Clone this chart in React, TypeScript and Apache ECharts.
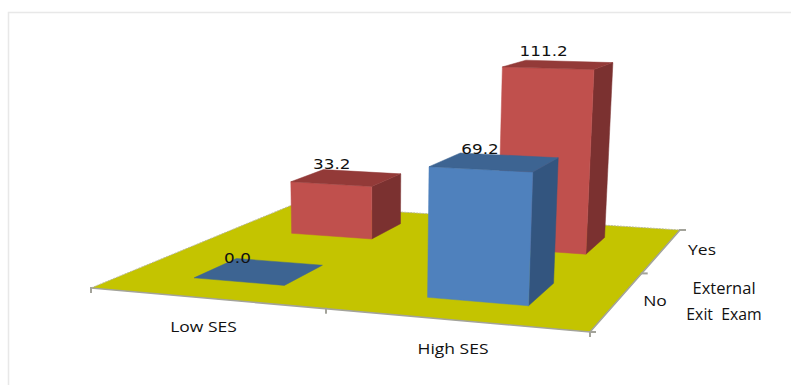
import React, { useEffect, useRef } from "react";
import * as echarts from "echarts";

const sesLevels = ["Low SES", "High SES"];
const examLevels = ["No", "Yes"];
const noExamValues = [0.0, 69.2];
const yesExamValues = [33.2, 111.2];

const W = 791;
const H = 385;

// Corners of the floor on screen: front-left, front-right, back-right, back-left.
const FLOOR = [[91, 288], [590, 332], [680, 230], [292, 205]];
const BAR_SPAN = 0.4; // share of a category band taken by a bar
const LEAN_X = 372;
const LEAN_DIST = 4900;

const COLORS = {
  floor: "#c4c400",
  edge: "#a3a39a",
  blue: { front: "#4f81bd", side: "#33557f", top: "#3d6492" },
  red: { front: "#c0504d", side: "#7b3130", top: "#933a38" },
};

// Unit square to floor quadrilateral (projective map).
function makeFloorMap(q: number[][]) {
  const [[x0, y0], [x1, y1], [x2, y2], [x3, y3]] = q;
  const dx1 = x1 - x2, dx2 = x3 - x2, sx = x0 - x1 + x2 - x3;
  const dy1 = y1 - y2, dy2 = y3 - y2, sy = y0 - y1 + y2 - y3;
  const den = dx1 * dy2 - dx2 * dy1;
  const g = (sx * dy2 - dx2 * sy) / den;
  const h = (dx1 * sy - sx * dy1) / den;
  const a = x1 - x0 + g * x1, b = x3 - x0 + h * x3;
  const d = y1 - y0 + g * y1, e = y3 - y0 + h * y3;
  return (u: number, v: number) => {
    const w = g * u + h * v + 1;
    return { x: (a * u + b * v + x0) / w, y: (d * u + e * v + y0) / w, w };
  };
}
const floorAt = makeFloorMap(FLOOR);

// A point above the floor; verticals converge slightly towards a low vanishing point.
function lift(u: number, v: number, heightPx: number): number[] {
  const p = floorAt(u, v);
  const h = heightPx / p.w;
  return [p.x + (h * (p.x - LEAN_X)) / LEAN_DIST, p.y - h];
}

function poly(points: number[][], fill: string) {
  return {
    type: "polygon",
    shape: { points },
    style: { fill, stroke: fill, lineWidth: 0.5 },
  };
}

function renderBar(params: any, api: any) {
  const cs = params.coordSys;
  const seriesIdx = api.value(1);
  const val = api.value(2);
  const u = (api.coord([api.value(0), 0])[0] - cs.x) / cs.width;
  const v = (seriesIdx + 0.5) / examLevels.length;
  const half = (BAR_SPAN / sesLevels.length) / 2;
  const heightPx = api.coord([0, 0])[1] - api.coord([0, val])[1];
  const palette = seriesIdx === 0 ? COLORS.blue : COLORS.red;

  const u0 = u - half, u1 = u + half, v0 = v - half, v1 = v + half;
  const b = (a: number, c: number) => lift(a, c, 0);
  const t = (a: number, c: number) => lift(a, c, heightPx);
  const children: any[] = [];
  if (val > 0) {
    children.push(poly([b(u1, v0), b(u1, v1), t(u1, v1), t(u1, v0)], palette.side));
    children.push(poly([b(u0, v0), b(u1, v0), t(u1, v0), t(u0, v0)], palette.front));
  }
  children.push(poly([t(u0, v0), t(u1, v0), t(u1, v1), t(u0, v1)], palette.top));
  const c = t(u, v);
  children.push({
    type: "text",
    x: c[0] + (val > 0 ? -15 : -22),
    y: c[1] - 13,
    scaleX: 1.2,
    style: {
      text: val.toFixed(1),
      fill: "#111",
      font: "14px 'DejaVu Sans'",
      align: "center",
      verticalAlign: "middle",
      textAlign: "center",
      textVerticalAlign: "middle",
    },
  });
  return { type: "group", children };
}

function renderFloor() {
  const pt = (u: number, v: number) => {
    const p = floorAt(u, v);
    return [p.x, p.y];
  };
  const edgeStyle = { stroke: COLORS.edge, lineWidth: 1.6, fill: "none" };
  const backStyle = { stroke: "#b9b99a", lineWidth: 1, lineDash: [2, 1], fill: "none" };
  const children: any[] = [
    { type: "polygon", shape: { points: [pt(0, 0), pt(1, 0), pt(1, 1), pt(0, 1)] }, style: { fill: COLORS.floor } },
    { type: "polyline", shape: { points: [pt(0, 0), pt(0, 1), pt(1, 1)] }, style: backStyle },
    { type: "polyline", shape: { points: [pt(0, 0), pt(1, 0), pt(1, 1)] }, style: edgeStyle },
  ];
  [0, 0.5, 1].forEach((u) => {
    const p = pt(u, 0);
    children.push({ type: "line", shape: { x1: p[0], y1: p[1] - 1, x2: p[0], y2: p[1] + 5 }, style: { stroke: COLORS.edge, lineWidth: 2 } });
  });
  [0, 0.5, 1].forEach((v) => {
    const p = pt(1, v);
    children.push({ type: "line", shape: { x1: p[0] - 1, y1: p[1], x2: p[0] + 6, y2: p[1] }, style: { stroke: COLORS.edge, lineWidth: 2 } });
  });
  return { type: "group", children };
}

function label(text: string, x: number, y: number, font: string, scaleX: number) {
  return {
    type: "text",
    x,
    y,
    scaleX,
    style: { text, fill: "#111", font, align: "center", verticalAlign: "middle", textAlign: "center", textVerticalAlign: "middle" },
  };
}

export default function App() {
  const ref = useRef<HTMLDivElement>(null);
  useEffect(() => {
    document.body.style.margin = "0";
    const chart = echarts.init(ref.current!, undefined, { renderer: "svg" });
    // Back row first so the front row overlaps it.
    const barData: number[][] = [];
    yesExamValues.forEach((val, i) => barData.push([i, 1, val]));
    noExamValues.forEach((val, i) => barData.push([i, 0, val]));
    chart.setOption({
      animation: false,
      backgroundColor: "#ffffff",
      grid: { left: 0, top: 40, width: W, height: 221 },
      xAxis: { type: "category", data: sesLevels, show: false },
      yAxis: { type: "value", min: 0, max: 120, show: false },
      series: [
        { type: "custom", renderItem: renderFloor, data: [[0, 0, 0]], clip: false, silent: true, z: 1 },
        { type: "custom", renderItem: renderBar, data: barData, clip: false, silent: true, z: 2 },
      ],
      graphic: [
        { type: "polyline", shape: { points: [[8.5, H], [8.5, 12.5], [W, 12.5]] }, style: { stroke: "#e8e8e8", lineWidth: 1.5, fill: "none" } },
        label(sesLevels[0], 203.5, 327, "14px 'Open Sans'", 1.25),
        label(sesLevels[1], 453, 349, "14px 'Open Sans'", 1.25),
        label(examLevels[1], 702, 250, "14px 'Open Sans'", 1.25),
        label(examLevels[0], 655, 301, "14px 'Open Sans'", 1.25),
        label("External", 724, 287, "17px 'Open Sans'", 0.97),
        label("Exit  Exam", 724, 313, "17px 'Open Sans'", 0.93),
      ],
    });
    return () => chart.dispose();
  }, []);
  return <div ref={ref} style={{ width: W, height: H }} />;
}
